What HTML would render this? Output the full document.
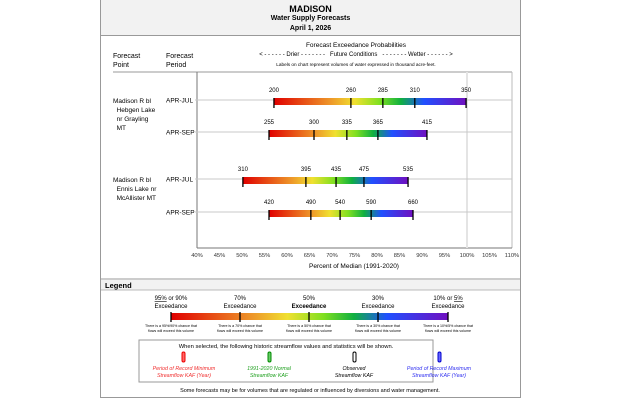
<!DOCTYPE html>
<html><head><meta charset="utf-8"><style>
body{margin:0;width:630px;height:400px;background:#fff;font-family:"Liberation Sans",sans-serif;position:relative;overflow:hidden}
.a{position:absolute;white-space:nowrap}
</style></head><body>
<div class="a" style="left:100px;top:0;width:419px;height:397px;border:1px solid #999;border-top:none"></div>
<div class="a" style="left:101px;top:0;width:419px;height:35px;background:#f2f2f2;border-bottom:1px solid #999"></div>
<div class="a" style="left:101px;top:4px;width:419px;text-align:center;font-size:9px;font-weight:bold">MADISON</div>
<div class="a" style="left:101px;top:15px;width:419px;text-align:center;font-size:7px;font-weight:bold">Water Supply Forecasts</div>
<div class="a" style="left:101px;top:25px;width:419px;text-align:center;font-size:7px;font-weight:bold">April 1, 2026</div>
<div class="a" style="left:113px;top:52px;font-size:7px;line-height:9px">Forecast<br>Point</div>
<div class="a" style="left:166px;top:52px;font-size:7px;line-height:9px">Forecast<br>Period</div>
<div class="a" style="left:200px;top:42px;width:312px;text-align:center;font-size:6.5px">Forecast Exceedance Probabilities</div>
<div class="a" style="left:200px;top:52px;width:312px;text-align:center;font-size:6px">&lt; - - - - - - Drier - - - - - - -&nbsp;&nbsp;&nbsp;Future Conditions&nbsp;&nbsp;&nbsp;- - - - - - - Wetter - - - - - - &gt;</div>
<div class="a" style="left:200px;top:62px;width:312px;text-align:center;font-size:4.7px">Labels on chart represent volumes of water expressed in thousand acre-feet.</div>
<div class="a" style="left:113px;top:97px;font-size:6.5px;line-height:9px">Madison R bl<br>&nbsp;&nbsp;Hebgen Lake<br>&nbsp;&nbsp;nr Grayling<br>&nbsp;&nbsp;MT</div>
<div class="a" style="left:113px;top:176px;font-size:6.5px;line-height:9px">Madison R bl<br>&nbsp;&nbsp;Ennis Lake nr<br>&nbsp;&nbsp;McAllister MT</div>
<svg class="a" style="left:0;top:0" width="630" height="400" id="chart">
<defs><linearGradient id="g" x1="0" x2="1" y1="0" y2="0">
<stop offset="0" stop-color="#e00000"/><stop offset="0.3" stop-color="#ee9a2a"/><stop offset="0.42" stop-color="#f0e030"/><stop offset="0.55" stop-color="#80e020"/><stop offset="0.66" stop-color="#10b040"/><stop offset="0.78" stop-color="#2050ff"/><stop offset="1" stop-color="#7010c0"/></linearGradient></defs>
<line x1="113" y1="72" x2="512" y2="72" stroke="#999" stroke-width="1"/>
<line x1="197" y1="72" x2="197" y2="248" stroke="#777" stroke-width="1"/>
<line x1="512" y1="72" x2="512" y2="248" stroke="#bbb" stroke-width="1"/>
<line x1="197" y1="248" x2="512" y2="248" stroke="#777" stroke-width="1"/>
<g id="grid"></g><g id="rows"></g><g id="ticks"></g>
<text x="354" y="268" font-size="6.5" text-anchor="middle">Percent of Median (1991-2020)</text>
<line x1="101" y1="279" x2="520" y2="279" stroke="#999"/>
<rect x="101" y="280" width="419" height="10" fill="#f2f2f2"/>
<line x1="101" y1="290" x2="520" y2="290" stroke="#bbb"/>
<text x="105" y="288" font-size="7.5" font-weight="bold">Legend</text>
<rect x="171" y="313" width="277" height="7" fill="url(#g)"/>
<g stroke="#000" stroke-width="1.3"><line x1="171" y1="312" x2="171" y2="322"/><line x1="240" y1="312" x2="240" y2="322"/><line x1="309" y1="312" x2="309" y2="322"/><line x1="378" y1="312" x2="378" y2="322"/><line x1="448" y1="312" x2="448" y2="322"/></g>
<g font-size="6" text-anchor="middle">
<text x="171" y="300"><tspan text-decoration="underline">95%</tspan> or 90%</text><text x="171" y="308">Exceedance</text>
<text x="240" y="300">70%</text><text x="240" y="308">Exceedance</text>
<text x="309" y="300">50%</text><text x="309" y="308" font-weight="bold">Exceedance</text>
<text x="378" y="300">30%</text><text x="378" y="308">Exceedance</text>
<text x="448" y="300">10% or <tspan text-decoration="underline">5%</tspan></text><text x="448" y="308">Exceedance</text>
</g>
<g font-size="3.6" text-anchor="middle">
<text x="171" y="327">There is a 95%/90% chance that</text><text x="171" y="332">flows will exceed this volume</text>
<text x="240" y="327">There is a 70% chance that</text><text x="240" y="332">flows will exceed this volume</text>
<text x="309" y="327">There is a 50% chance that</text><text x="309" y="332">flows will exceed this volume</text>
<text x="378" y="327">There is a 30% chance that</text><text x="378" y="332">flows will exceed this volume</text>
<text x="448" y="327">There is a 10%/5% chance that</text><text x="448" y="332">flows will exceed this volume</text>
</g>
<rect x="139" y="340" width="294" height="42" fill="none" stroke="#999"/>
<text x="286" y="348" font-size="5.8" text-anchor="middle">When selected, the following historic streamflow values and statistics will be shown.</text>
<g stroke-width="1"><rect x="182" y="352" width="3" height="10" rx="1.5" fill="#f66" stroke="#e00"/><rect x="268" y="352" width="3" height="10" rx="1.5" fill="#6c6" stroke="#080"/><rect x="353" y="352" width="3" height="10" rx="1.5" fill="#fff" stroke="#000"/><rect x="438" y="352" width="3" height="10" rx="1.5" fill="#66f" stroke="#00c"/></g>
<g font-size="5.3" font-style="italic" text-anchor="middle">
<text x="184" y="370" fill="#f03030">Period of Record Minimum</text><text x="184" y="377" fill="#f03030">Streamflow KAF (Year)</text>
<text x="269" y="370" fill="#20a020">1991-2020 Normal</text><text x="269" y="377" fill="#20a020">Streamflow KAF</text>
<text x="354" y="370">Observed</text><text x="354" y="377">Streamflow KAF</text>
<text x="439" y="370" fill="#3030f0">Period of Record Maximum</text><text x="439" y="377" fill="#3030f0">Streamflow KAF (Year)</text>
</g>
<text x="310" y="392" font-size="5.5" text-anchor="middle">Some forecasts may be for volumes that are regulated or influenced by diversions and water management.</text>
</svg>
<script>
const periods = ["APR-JUL","APR-SEP","APR-JUL","APR-SEP"];
const volumes = [[200,260,285,310,350],[255,300,335,365,415],[310,395,435,475,535],[420,490,540,590,660]];
const pctOfMedian = [[57.1,74.2,81.3,88.4,99.8],[56.0,66.0,73.3,80.2,91.1],[50.2,64.2,70.9,77.1,86.9],[56.0,65.3,71.8,78.7,88.0]];
const xTicks = [40,45,50,55,60,65,70,75,80,85,90,95,100,105,110];
const rowY = [100,132,179,212];
const NS="http://www.w3.org/2000/svg";
const X = p => 197 + (p-40)*4.5;
function mk(t,a,par){const e=document.createElementNS(NS,t);for(const k in a)e.setAttribute(k,a[k]);par.appendChild(e);return e;}
const grid=document.getElementById('grid'), rows=document.getElementById('rows'), ticks=document.getElementById('ticks');
mk('line',{x1:X(100),x2:X(100),y1:72,y2:248,stroke:'#e4e4e4','stroke-width':2},grid);
xTicks.forEach(v=>{
  const t=mk('text',{x:X(v),y:257,'font-size':5.8,'text-anchor':'middle',fill:'#333'},ticks);
  t.textContent=v+'%';
  
  
});
periods.forEach((p,i)=>{
  const y=rowY[i];
  mk('line',{x1:195,x2:512,y1:y,y2:y,stroke:'#c8c8c8'},grid);
  const pl=mk('text',{x:166,y:y+2.5,'font-size':6.5},rows);
  pl.textContent=p;
  
  
  const vals=pctOfMedian[i];
  const bar=mk('rect',{x:X(vals[0]),y:y-2,width:X(vals[4])-X(vals[0]),height:7,fill:'url(#g)'},rows);
  
  
  vals.forEach((v,j)=>{
    mk('line',{x1:X(v),x2:X(v),y1:y-2,y2:y+8,stroke:'#000','stroke-width':1.3},rows);
    const l=mk('text',{x:X(v),y:y-8,'font-size':6,'text-anchor':'middle'},rows);
    l.textContent=volumes[i][j];
    
    
  });
});
</script>
</body></html>
